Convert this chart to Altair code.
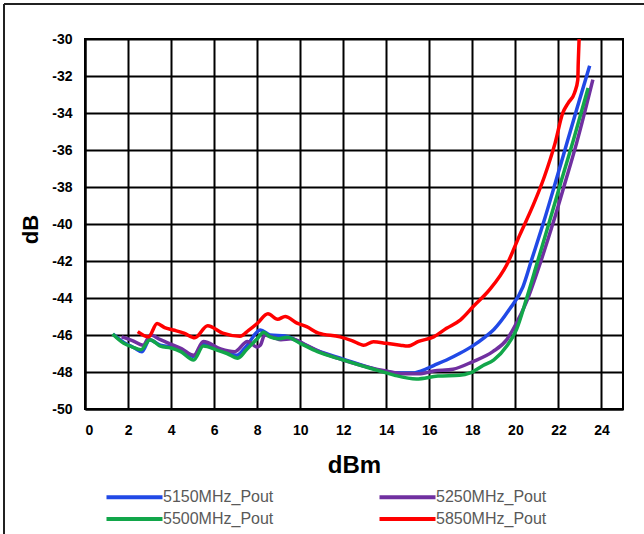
import altair as alt
import pandas as pd

# Output power sweep (dBm) vs. measured level (dB) for four carrier frequencies
x_5150 = [1.3, 1.8, 2.3, 2.65, 3.0, 3.5, 4.0, 4.5, 5.05, 5.5, 6.0, 6.6, 7.05, 7.5, 8.15, 8.6,
          9.3, 10.0, 10.8, 12.0, 13.2, 14.0, 14.7, 15.3, 15.6, 16.2, 16.8, 17.4, 18.0, 18.6,
          19.0, 19.7, 20.35, 20.75, 21.3, 21.85, 22.4, 22.85, 23.45]
y_5150 = [-45.95, -46.4, -46.7, -46.9, -46.25, -46.55, -46.65, -46.85, -47.15, -46.5, -46.7,
          -46.9, -47.1, -46.6, -45.73, -46.0, -46.05, -46.4, -46.85, -47.3, -47.75, -48.0,
          -48.05, -48.05, -47.95, -47.65, -47.35, -47.0, -46.6, -46.1, -45.7, -44.65, -43.4,
          -41.95, -39.95, -37.8, -35.6, -33.8, -31.45]

x_5250 = [1.7, 2.2, 2.7, 3.05, 3.5, 3.9, 4.5, 5.05, 5.5, 6.3, 6.95, 7.55, 8.0, 8.15, 8.35,
          8.8, 9.1, 9.6, 10.2, 11.0, 12.0, 13.2, 14.0, 14.8, 15.5, 16.2, 17.1, 18.0, 18.95,
          19.6, 20.05, 20.5, 21.2, 21.75, 22.3, 22.85, 23.6]
y_5250 = [-46.1, -46.3, -46.55, -46.0, -46.25, -46.45, -46.75, -47.1, -46.35, -46.75, -46.9,
          -46.35, -46.65, -46.55, -46.0, -46.15, -46.25, -46.2, -46.5, -46.95, -47.35, -47.75,
          -47.95, -48.1, -48.1, -47.95, -47.85, -47.45, -46.9, -46.25, -45.35, -44.25, -41.95,
          -39.95, -37.8, -35.6, -32.2]

x_5500 = [1.28, 1.8, 2.2, 2.6, 3.02, 3.5, 4.0, 4.45, 5.05, 5.5, 6.1, 6.6, 7.1, 7.5, 8.0, 8.3,
          8.6, 9.0, 9.4, 10.0, 10.8, 12.0, 13.25, 14.0, 14.4, 15.4, 16.4, 17.4, 17.9, 18.5,
          19.0, 19.6, 20.05, 20.5, 21.05, 21.6, 22.15, 22.7, 23.38]
y_5500 = [-45.95, -46.45, -46.65, -46.8, -46.25, -46.6, -46.7, -46.9, -47.35, -46.6, -46.8,
          -47.0, -47.25, -46.8, -46.2, -45.85, -46.1, -46.2, -46.12, -46.45, -46.9, -47.35,
          -47.8, -48.05, -48.18, -48.38, -48.22, -48.18, -48.05, -47.65, -47.35, -46.6, -45.7,
          -44.1, -41.95, -39.8, -37.6, -35.45, -32.65]

x_5850 = [2.45, 2.95, 3.35, 3.7, 4.1, 4.6, 5.1, 5.7, 6.4, 7.2, 7.6, 8.0, 8.5, 8.95, 9.3, 9.85,
          10.3, 10.85, 11.85, 12.4, 12.95, 13.4, 14.0, 14.65, 15.0, 15.5, 16.2, 16.8, 17.45,
          18.05, 18.8, 19.6, 20.2, 20.8, 21.35, 21.85, 22.2, 22.45, 22.75, 22.9, 22.92, 22.96]
y_5850 = [-45.82, -46.1, -45.38, -45.6, -45.73, -45.9, -46.15, -45.5, -45.9, -46.07, -45.75,
          -45.38, -44.85, -45.15, -45.0, -45.36, -45.55, -45.9, -46.1, -46.3, -46.55, -46.36,
          -46.45, -46.55, -46.6, -46.35, -46.1, -45.64, -45.18, -44.45, -43.55, -42.2, -40.6,
          -39.05, -37.43, -35.6, -34.0, -33.46, -32.9, -32.2, -31.3, -30.0]

series_names = ["5150MHz_Pout", "5250MHz_Pout", "5500MHz_Pout", "5850MHz_Pout"]
series_colors = ["#2149e6", "#7030a0", "#12a64a", "#ff0000"]
x_ticks = list(range(0, 25, 2))
y_ticks = list(range(-50, -29, 2))

rows = []
for name, xs, ys in zip(series_names,
                        [x_5150, x_5250, x_5500, x_5850],
                        [y_5150, y_5250, y_5500, y_5850]):
    for i, (xv, yv) in enumerate(zip(xs, ys)):
        rows.append({"series": name, "i": i, "dBm": xv, "dB": yv})
df = pd.DataFrame(rows)

FONT = "Liberation Sans"

# long, flat legend swatch: a horizontal path wider than the unit symbol box
LEGEND_SWATCH = "M-2.5,0H2.5"

lines = alt.Chart(df).mark_line(strokeWidth=3.5, interpolate="monotone", clip=True).encode(
    x=alt.X("dBm:Q",
            scale=alt.Scale(domain=[0, 25], nice=False, zero=False),
            axis=alt.Axis(values=x_ticks, title="dBm", grid=True, ticks=False,
                          labelFont=FONT, labelFontSize=14, labelFontWeight="bold",
                          labelColor="#000000", labelPadding=14,
                          titleFont=FONT, titleFontSize=24, titleFontWeight="bold",
                          titleColor="#000000", titleBaseline="alphabetic", titleY=63)),
    y=alt.Y("dB:Q",
            scale=alt.Scale(domain=[-50, -30], nice=False, zero=False),
            axis=alt.Axis(values=y_ticks, title="dB", grid=True, ticks=False,
                          labelExpr="toString(datum.value)",
                          labelFont=FONT, labelFontSize=14, labelFontWeight="bold",
                          labelColor="#000000", labelPadding=13,
                          titleFont=FONT, titleFontSize=22, titleFontWeight="bold",
                          titleColor="#000000", titleX=-43, titleY=190)),
    color=alt.Color("series:N",
                    scale=alt.Scale(domain=series_names, range=series_colors),
                    legend=alt.Legend(orient="none", legendX=36, legendY=444.5, columns=2,
                                      direction="horizontal",
                                      title=None, symbolType=LEGEND_SWATCH, symbolSize=502,
                                      symbolStrokeWidth=4, labelFont=FONT,
                                      labelFontSize=16, labelColor="#595959",
                                      labelOffset=15, columnPadding=97, rowPadding=0,
                                      padding=0)),
    order="i:Q",
)

# thin frame lines along the figure's left and top edges
frame_left = alt.Chart(df).mark_rule(stroke="#222222", strokeWidth=1.5).encode(
    x=alt.value(-81), y=alt.value(-35), y2=alt.value(600)
)
frame_top = alt.Chart(df).mark_rule(stroke="#222222", strokeWidth=1.5).encode(
    x=alt.value(-81), x2=alt.value(600), y=alt.value(-35)
)

chart = alt.layer(lines, frame_left, frame_top).properties(
    width=538, height=370,
    background="white",
    autosize=alt.AutoSizeParams(type="none"),
    padding={"left": 85, "top": 39, "right": 21, "bottom": 125},
).configure_axis(
    gridColor="#000000", gridWidth=2, gridOpacity=1,
    domainColor="#000000", domainWidth=2,
).configure_view(
    stroke="#000000", strokeWidth=2
)

chart.save("out.html", embed_options={"renderer": "svg", "actions": False})
